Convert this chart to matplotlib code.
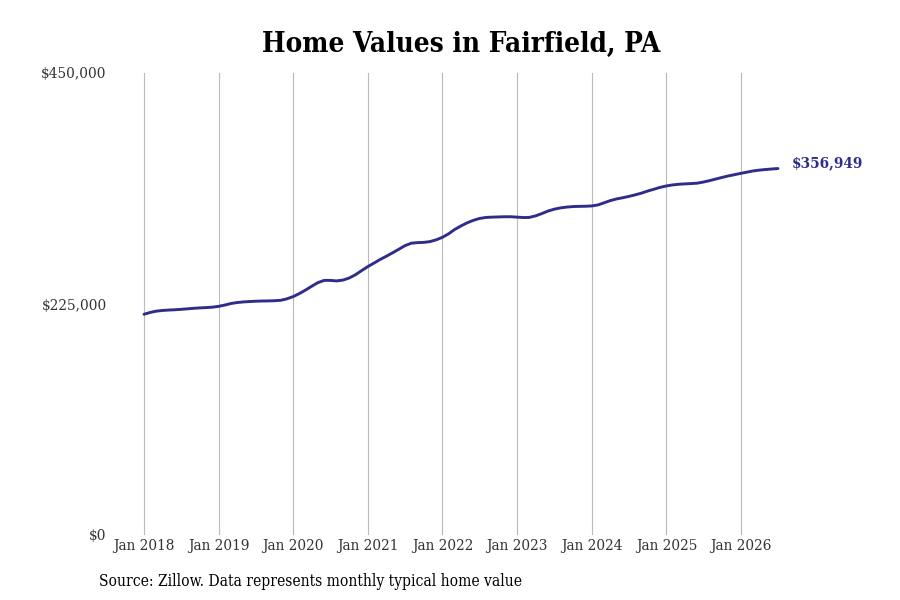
import pandas as pd
import matplotlib
matplotlib.use('Agg')
import matplotlib.pyplot as plt
import matplotlib.dates as mdates
from matplotlib.ticker import FuncFormatter

# monthly typical home value, Jan 2018 - Jul 2026
values = [
    215000, 216800, 218000, 218700, 219100, 219400, 219800, 220300, 220800, 221200, 221500, 221900,  # 2018
    222700, 224000, 225400, 226400, 227000, 227400, 227700, 227900, 228000, 228200, 228600, 230000,  # 2019
    232200, 235200, 238500, 242300, 245800, 248000, 248000, 247500, 248300, 250300, 253500, 257500,  # 2020
    261500, 265000, 268300, 271500, 274800, 278300, 281800, 284200, 284800, 285000, 285800, 287500,  # 2021
    290000, 293500, 297500, 301000, 304000, 306500, 308300, 309300, 309600, 309800, 310000, 310000,  # 2022
    309600, 309200, 309300, 310800, 313000, 315500, 317300, 318600, 319400, 319900, 320100, 320200,  # 2023
    320500, 321500, 323500, 325700, 327300, 328500, 329800, 331300, 333000, 335000, 336800, 338600,  # 2024
    340000, 341000, 341600, 342000, 342300, 342700, 343800, 345200, 346800, 348300, 349800, 351000,  # 2025
    352300, 353500, 354600, 355400, 356000, 356500, 356949,                                          # 2026
]
dates = pd.date_range('2018-01-01', periods=len(values), freq='MS')
year_ticks = pd.date_range('2018-01-01', '2026-01-01', freq='YS')
tick_labels = [d.strftime('Jan %Y') for d in year_ticks]
y_ticks = [0, 225000, 450000]

title = 'Home Values in Fairfield, PA'
source = 'Source: Zillow. Data represents monthly typical home value'
line_color = '#302d8a'

plt.rcParams['font.family'] = ['DejaVu Serif']
plt.rcParams['font.stretch'] = 'condensed'

fig = plt.figure(figsize=(9, 6), dpi=100)
# axes box in figure pixels: x 115..780, y 73..535 (from top)
ax = fig.add_axes([115 / 900, 65 / 600, 665 / 900, 462 / 600])

ax.plot(dates, values, color=line_color, linewidth=2.1, solid_capstyle='round')

# x range chosen so Jan 2018 sits at px 144 and Jan 2026 at px 741
d0 = mdates.date2num(year_ticks[0])
d1 = mdates.date2num(year_ticks[-1])
per_px = (d1 - d0) / (741 - 144)
ax.set_xlim(d0 - (144 - 115) * per_px, d0 + (780 - 144) * per_px)
ax.set_ylim(0, 450000)

ax.set_xticks(year_ticks)
ax.set_xticklabels(tick_labels, fontsize=11, color='#333333')
ax.set_yticks(y_ticks)
ax.yaxis.set_major_formatter(FuncFormatter(lambda v, p: '${:,.0f}'.format(v)))
ax.tick_params(axis='y', length=0, labelsize=11, labelcolor='#333333', pad=6)
ax.tick_params(axis='x', length=0, pad=3)
ax.grid(axis='x', color='#bbbbbb', linewidth=0.8)
ax.set_axisbelow(True)
for s in ax.spines.values():
    s.set_visible(False)

ax.annotate('${:,.0f}'.format(values[-1]), xy=(dates[-1], values[-1]),
            xytext=(10, 4), textcoords='offset points', va='center', ha='left',
            fontsize=11, fontweight='bold', color=line_color)

fig.text(461 / 900, 1 - 44 / 600, title, ha='center', va='center',
         fontsize=20, fontweight='bold', color='black')
fig.text(99 / 900, 1 - 582 / 600, source, ha='left', va='center', fontsize=11.2, color='black')

fig.savefig('out.png', dpi=100)
